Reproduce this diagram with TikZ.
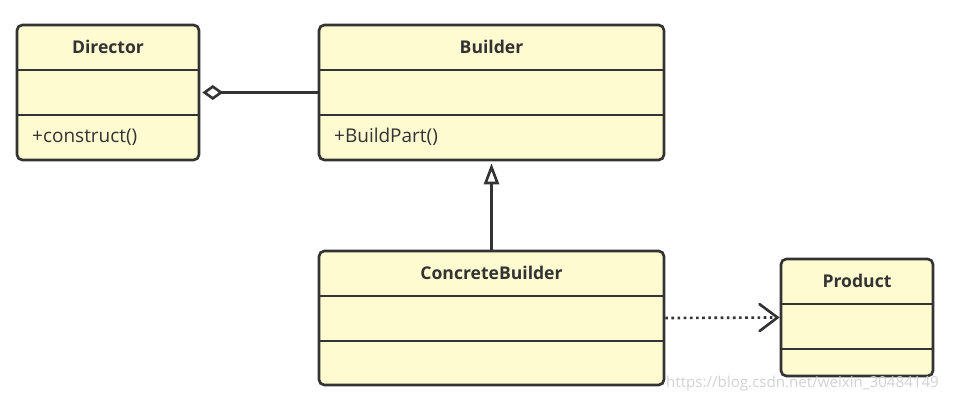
\documentclass[tikz,border=0pt]{standalone}
\usepackage{fontspec}
\setmainfont{Open Sans}
\usepackage{tikz}
\usetikzlibrary{positioning, arrows.meta}
\definecolor{classfill}{HTML}{FEFBD0}
\definecolor{classline}{HTML}{333333}
\tikzstyle{umlclass} = [rectangle, rounded corners=3pt, draw=classline, fill=classfill, line width=1.5pt]
\tikzstyle{classname} = [font=\fontsize{10}{12}\selectfont\bfseries, text=classline]
\tikzstyle{member} = [font=\fontsize{10.8}{12}\selectfont, text=classline, anchor=west]
\tikzstyle{divider} = [draw=classline, line width=1.5pt]
\tikzstyle{arrow} = [draw=classline, line width=1.5pt]

\begin{document}
\begin{tikzpicture}[x=0.02cm, y=-0.02cm]

    \useasboundingbox (0,0) rectangle (954,402);

    % Nodes
    \node (director) [umlclass, minimum width=3.64cm, minimum height=2.7cm] at (108,92.5) {};
    \node (builder) [umlclass, minimum width=6.9cm, minimum height=2.7cm] at (491.5,92.5) {};
    \node (concrete) [umlclass, minimum width=6.9cm, minimum height=2.68cm] at (491.5,318) {};
    \node (product) [umlclass, minimum width=3.04cm, minimum height=2.34cm] at (857,317.5) {};

    % Dividers
    \draw [divider] (director.west |- 0,70) -- (director.east |- 0,70);
    \draw [divider] (director.west |- 0,115) -- (director.east |- 0,115);
    \draw [divider] (builder.west |- 0,70) -- (builder.east |- 0,70);
    \draw [divider] (builder.west |- 0,115) -- (builder.east |- 0,115);
    \draw [divider] (concrete.west |- 0,296) -- (concrete.east |- 0,296);
    \draw [divider] (concrete.west |- 0,341) -- (concrete.east |- 0,341);
    \draw [divider] (product.west |- 0,304) -- (product.east |- 0,304);
    \draw [divider] (product.west |- 0,349) -- (product.east |- 0,349);

    % Texts
    \node (directorname) [classname] at (108,47) {Director};
    \node (directorop) [member] at (26,137) {+construct()};
    \node (buildername) [classname] at (491.5,47) {Builder};
    \node (builderop) [member] at (328,137) {+BuildPart()};
    \node (concretename) [classname] at (491.5,273) {ConcreteBuilder};
    \node (productname) [classname] at (857,281) {Product};

    % Arrows
    \draw [arrow, -{Diamond[open, length=0.42cm, width=0.3cm]}, shorten >=0.04cm] (builder.west) -- (director.east);
    \draw [arrow, -{Triangle[open, length=0.42cm, width=0.3cm]}, shorten >=0.04cm] (concrete.north) -- (builder.south);
    \draw [arrow, dotted, -{Straight Barb[length=0.36cm, width=0.54cm, line cap=round]}] (concrete.east) -- (product.west);

    % Watermark
    \node (watermark) [font=\fontsize{8.6}{10}\selectfont, text=gray!35, anchor=east] at (945,384) {https://blog.csdn.net/weixin\_30484149};

\end{tikzpicture}
\end{document}
